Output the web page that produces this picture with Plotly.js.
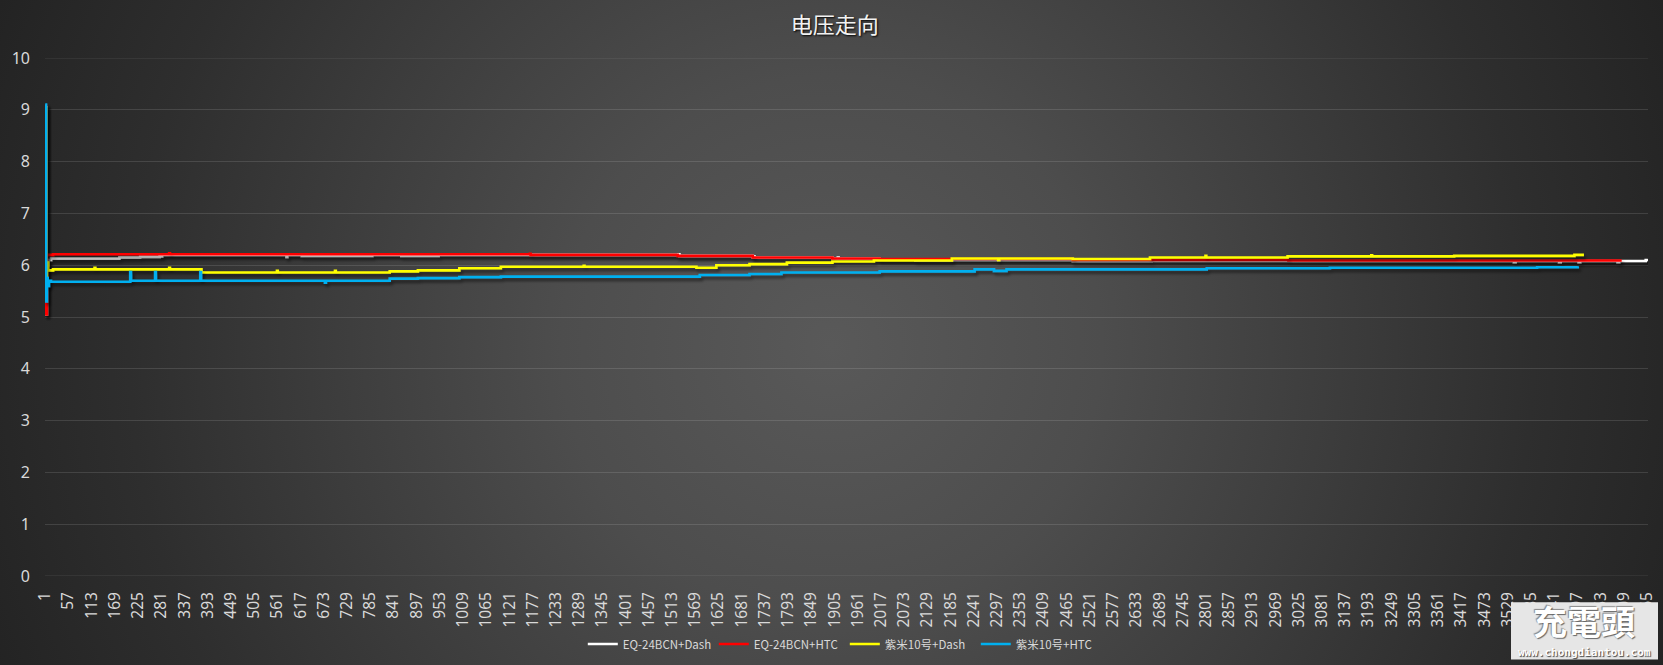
<!DOCTYPE html>
<html>
<head>
<meta charset="utf-8">
<script src="https://cdn.plot.ly/plotly-3.0.1.min.js"></script>
<style>
html,body{margin:0;padding:0;width:1663px;height:665px;overflow:hidden;}
body{background:radial-gradient(circle at 50% 52%, #595959 0%, #4d4d4d 30%, #3d3d3d 55%, #2e2e2e 78%, #232323 100%);}
#chart{width:1663px;height:665px;}
.scatterlayer .trace{filter:url(#ds);}
</style>
</head>
<body>
<svg width="0" height="0" style="position:absolute">
<defs><filter id="ds" x="-5%" y="-50%" width="110%" height="200%">
<feDropShadow dx="2" dy="3" stdDeviation="1.5" flood-color="#000" flood-opacity="0.55"/>
</filter></defs>
</svg>
<div id="chart"></div>
<script>
// Category tick labels
const tickVals = [1,57,113,169,225,281,337,393,449,505,561,617,673,729,785,841,897,953,1009,1065,1121,1177,1233,1289,1345,1401,1457,1513,1569,1625,1681,1737,1793,1849,1905,1961,2017,2073,2129,2185,2241,2297,2353,2409,2465,2521,2577,2633,2689,2745,2801,2857,2913,2969,3025,3081,3137,3193,3249,3305,3361,3417,3473,3529,3585,3641,3697,3753,3809,3865];
const tickText = tickVals.map(String);
const seriesNames = ["EQ-24BCN+Dash","EQ-24BCN+HTC","紫米10号+Dash","紫米10号+HTC"];
const seriesColors = ["#ffffff","#ff0000","#ffff00","#00b0f0"];

// EQ-24BCN+Dash (white) - sample index / voltage
const eqDashX = [1,3,5,8,15,180,230,277,283,583,585,620,790,860,950,1527,1529,1531,1708,1710,1712,1900,1913,1915,2014,2100,2480,2670,3000,3544,3548,3653,3657,3700,3704,3794,3798,3862,3867];
const eqDashY = [9.05,5.05,6.0,6.1,6.13,6.15,6.16,6.17,6.2,6.16,6.2,6.18,6.2,6.18,6.2,6.2,6.21,6.18,6.15,6.17,6.15,6.13,6.15,6.13,6.11,6.09,6.07,6.08,6.08,6.06,6.08,6.06,6.08,6.06,6.08,6.06,6.08,6.1,6.12];

// EQ-24BCN+HTC (red)
const eqHtcX = [1,3,5,20,300,302,1170,1172,1527,1708,1900,2014,2480,3000,3804];
const eqHtcY = [9.08,5.05,6.2,6.21,6.23,6.21,6.22,6.2,6.18,6.15,6.13,6.12,6.1,6.09,6.09];

// 紫米10号+Dash (yellow)
const zmDashX = [1,3,5,8,20,120,122,300,302,374,378,560,562,700,702,832,900,1000,1100,1300,1302,1572,1620,1700,1790,1900,2000,2188,2300,2302,2480,2666,2800,2802,2998,3200,3202,3400,3690,3713];
const zmDashY = [9.05,5.6,6.05,5.9,5.92,5.95,5.92,5.95,5.92,5.92,5.86,5.89,5.86,5.89,5.86,5.88,5.9,5.94,5.97,5.99,5.97,5.95,6.0,6.02,6.05,6.07,6.09,6.13,6.1,6.13,6.12,6.15,6.18,6.15,6.17,6.19,6.17,6.18,6.2,6.2];

// 紫米10号+HTC (blue)
const zmHtcX = [1,3,5,7,10,15,205,206,208,265,266,268,374,375,377,675,676,678,832,900,1000,1100,1572,1580,1700,1777,2014,2243,2290,2320,2803,3100,3600,3698];
const zmHtcY = [9.1,5.3,5.75,5.6,5.7,5.68,5.68,5.87,5.7,5.7,5.87,5.7,5.7,5.87,5.7,5.7,5.66,5.7,5.74,5.75,5.77,5.78,5.78,5.81,5.83,5.86,5.88,5.92,5.89,5.92,5.94,5.95,5.96,5.98];

const xs = [eqDashX, eqHtcX, zmDashX, zmHtcX];
const ys = [eqDashY, eqHtcY, zmDashY, zmHtcY];

const traces = seriesNames.map((n,i)=>({
  type:'scatter', mode:'lines', name:n, x:xs[i], y:ys[i],
  line:{color:seriesColors[i], width:2.6, shape:'hv'}
}));

const px2xp = p => (p-45)/1603;
const px2yp = p => (575.7-p)/517.4;
const gridColor = 'rgba(255,255,255,0.12)';

const layout = {
  width:1663, height:665,
  paper_bgcolor:'rgba(0,0,0,0)', plot_bgcolor:'rgba(0,0,0,0)',
  margin:{l:45, r:15, t:58, b:89, pad:0},
  font:{family:'"Noto Sans", "Noto Sans CJK SC", sans-serif', color:'#d9d9d9'},
  title:{text:'电压走向', x:0.502, xref:'container', y:1-25/665, yref:'container', yanchor:'middle',
    font:{family:'"Noto Sans CJK SC", sans-serif', size:22, color:'#f2f2f2', shadow:'1px 1px 2px #000'}},
  xaxis:{type:'linear', range:[0.5,3867.5], tickmode:'array', tickvals:tickVals, ticktext:tickText,
    tickangle:-90, showgrid:false, zeroline:false, showline:false, ticks:'',
    ticklabelstandoff:12, tickfont:{size:15.5, color:'#d9d9d9', family:'"Noto Sans", sans-serif'}},
  yaxis:{range:[0,10], dtick:1, tick0:0, showgrid:true, gridcolor:gridColor, gridwidth:1,
    zeroline:false, showline:false, ticks:'', ticklabelstandoff:14,
    tickfont:{size:16, color:'#d9d9d9', family:'"Noto Sans", sans-serif'}},
  showlegend:true,
  legend:{orientation:'h', x:0.508, xref:'container', xanchor:'center', y:1-644/665, yref:'container', yanchor:'middle',
    font:{size:11.5, color:'#d9d9d9', family:'"Noto Sans CJK SC", sans-serif'}, itemwidth:30, entrywidth:86, entrywidthmode:'pixels',
    bgcolor:'rgba(0,0,0,0)'},
  shapes:[
    {type:'line', xref:'paper', yref:'y', x0:0, x1:1, y0:10, y1:10, line:{color:gridColor, width:1}, layer:'below'},
    {type:'line', xref:'paper', yref:'y', x0:0, x1:1, y0:0, y1:0, line:{color:gridColor, width:1}, layer:'below'},
    {type:'rect', xref:'paper', yref:'paper', x0:px2xp(1511), x1:px2xp(1658), y0:px2yp(659), y1:px2yp(602),
    fillcolor:'#e6e6e6', line:{width:0}, layer:'above'}],
  annotations:[
    {xref:'paper', yref:'paper', x:px2xp(1584), y:px2yp(620), xanchor:'center', yanchor:'middle', text:'<b>充電頭</b>', showarrow:false,
      font:{family:'"Noto Sans CJK TC", sans-serif', size:34, color:'#ffffff', shadow:'1px 1px 1px #666, -1px -1px 1px #888'}},
    {xref:'paper', yref:'paper', x:px2xp(1584), y:px2yp(652), xanchor:'center', yanchor:'middle', text:'<b>www.chongdiantou.com</b>', showarrow:false,
      font:{family:'"DejaVu Sans Mono", monospace', size:11, color:'#ffffff', shadow:'1px 1px 1px #444'}}
  ]
};

Plotly.newPlot('chart', traces, layout, {displayModeBar:false, staticPlot:true});
</script>
</body>
</html>
